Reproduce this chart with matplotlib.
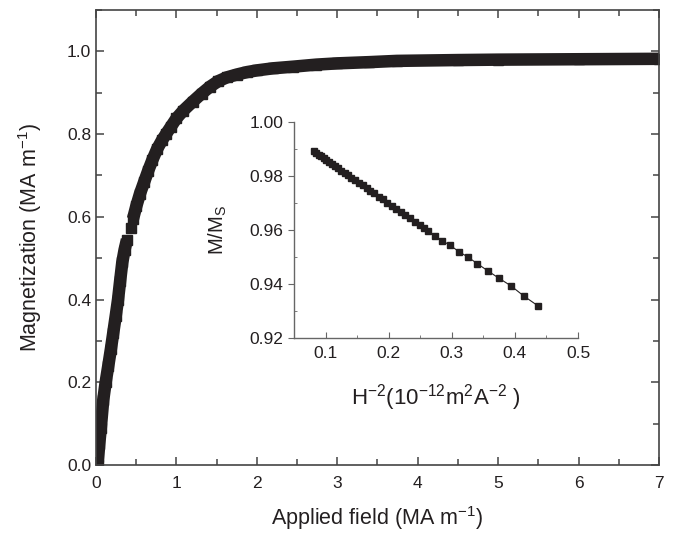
import matplotlib.pyplot as plt
import numpy as np
from matplotlib.ticker import MultipleLocator

plt.rcParams['font.family'] = ['Liberation Sans', 'DejaVu Sans']
plt.rcParams['mathtext.default'] = 'regular'

# main curve: applied field (MA/m) vs magnetization (MA/m)
field = [0.02, 0.04, 0.06, 0.09, 0.12, 0.153, 0.185, 0.215, 0.245, 0.274,
         0.30, 0.327, 0.355, 0.385,
         0.43,
         0.46, 0.50, 0.547, 0.60, 0.65, 0.70, 0.76, 0.82, 0.87, 0.928,
         1.0, 1.086, 1.20, 1.314, 1.42, 1.52, 1.625, 1.75, 1.88, 2.0,
         2.2, 2.45, 2.74, 3.0, 3.4, 3.74, 4.5, 5.0, 6.0, 7.0]
magn = [0.00, 0.05, 0.09, 0.157, 0.20, 0.24, 0.28, 0.32, 0.36, 0.40,
        0.445, 0.49, 0.52, 0.545,
        0.572,
        0.595, 0.625, 0.656, 0.685, 0.712, 0.737, 0.764, 0.785, 0.80, 0.817,
        0.838, 0.857, 0.878, 0.898, 0.915, 0.928, 0.937, 0.944, 0.950, 0.954,
        0.959, 0.963, 0.968, 0.971, 0.974, 0.977, 0.979, 0.980, 0.981, 0.982]

# inset: M/Ms vs H^-2 (1e-12 m^2 A^-2)
h_inv2 = [0.081, 0.085, 0.089, 0.093, 0.097, 0.101, 0.105, 0.110, 0.115, 0.120,
          0.125, 0.130, 0.135, 0.141, 0.147, 0.153, 0.159, 0.165, 0.171, 0.177,
          0.184, 0.191, 0.198, 0.205, 0.212, 0.219, 0.226, 0.234, 0.242, 0.250,
          0.256, 0.2628, 0.2732, 0.2849, 0.2976, 0.3111, 0.3254, 0.3407, 0.3569,
          0.3743, 0.3939, 0.4138, 0.4366]
m_ratio = [0.9892, 0.9886, 0.9879, 0.9873, 0.9866, 0.9860, 0.9853, 0.9845, 0.9837, 0.9829,
           0.9820, 0.9812, 0.9804, 0.9794, 0.9785, 0.9775, 0.9765, 0.9755, 0.9745, 0.9736,
           0.9724, 0.9713, 0.9701, 0.9690, 0.9679, 0.9667, 0.9656, 0.9643, 0.9630, 0.9617,
           0.9607, 0.9596, 0.9579, 0.9560, 0.9543, 0.9520, 0.9500, 0.9475, 0.9449,
           0.9422, 0.9393, 0.9356, 0.9319]

col = '#231f20'
grey = '#444444'

fig = plt.figure(figsize=(6.77, 5.35), dpi=100)
ax = fig.add_axes([0.1418, 0.1308, 0.8316, 0.8505])

H = np.array(field)
M = np.array(magn)
lo = H < 0.4
hi = H > 0.44
ax.plot(H[lo], M[lo], color=col, lw=9, solid_capstyle='butt')
ax.plot(H[hi], M[hi], color=col, lw=9, solid_capstyle='butt')
ax.plot(H, M, ls='none', marker='s', ms=7.5, color=col, mec=col)

ax.set_xlim(0, 7)
ax.set_ylim(0, 1.1)
ax.xaxis.set_major_locator(MultipleLocator(1))
ax.xaxis.set_minor_locator(MultipleLocator(0.5))
ax.yaxis.set_major_locator(MultipleLocator(0.2))
ax.yaxis.set_minor_locator(MultipleLocator(0.1))
ax.yaxis.set_major_formatter(plt.FormatStrFormatter('%.1f'))
ax.tick_params(which='both', direction='in', top=True, right=True, colors=grey,
               labelcolor=col, labelsize=12.5)
ax.tick_params(which='major', length=6, width=1.1)
ax.tick_params(which='minor', length=4, width=1.1)
ax.tick_params(axis='x', pad=8)
for s in ax.spines.values():
    s.set_color(grey)
    s.set_linewidth(1.2)
ax.set_xlabel('Applied field (MA m$^{-1}$)', fontsize=15.5, color=col)
ax.set_ylabel('Magnetization (MA m$^{-1}$)', fontsize=15.5, color=col)
ax.xaxis.set_label_coords(0.5, -0.085)
ax.yaxis.set_label_coords(-0.093, 0.5)

# inset
ins = fig.add_axes([0.4343, 0.3682, 0.4195, 0.4038])
ins.plot(h_inv2, m_ratio, color=col, lw=0.8, marker='s', ms=4.5, mec=col, mfc=col)
ins.set_xlim(0.05, 0.5)
ins.set_ylim(0.92, 1.0)
ins.xaxis.set_major_locator(MultipleLocator(0.1))
ins.xaxis.set_minor_locator(MultipleLocator(0.05))
ins.yaxis.set_major_locator(MultipleLocator(0.02))
ins.yaxis.set_minor_locator(MultipleLocator(0.01))
ins.yaxis.set_major_formatter(plt.FormatStrFormatter('%.2f'))
ins.spines['top'].set_visible(False)
ins.spines['right'].set_visible(False)
for s in ['left', 'bottom']:
    ins.spines[s].set_color('#666666')
    ins.spines[s].set_linewidth(1.0)
ins.tick_params(axis='x', which='both', direction='in', colors='#666666', labelcolor=col,
                labelsize=12.5, pad=6)
ins.tick_params(axis='y', which='major', direction='out', colors='#666666', labelcolor=col,
                labelsize=12.5)
ins.tick_params(axis='y', which='minor', direction='in', colors='#666666')
ins.tick_params(which='major', length=4)
ins.tick_params(which='minor', length=2.5)
ins.patch.set_alpha(0)
ins.set_xlabel('H$^{-2}$(10$^{-12}$m$^{2}$A$^{-2}$ )', fontsize=16, color=col, labelpad=15)
ins.set_ylabel('M/M$_S$', fontsize=14.5, color=col, labelpad=15)

fig.savefig('out.png', dpi=100)
